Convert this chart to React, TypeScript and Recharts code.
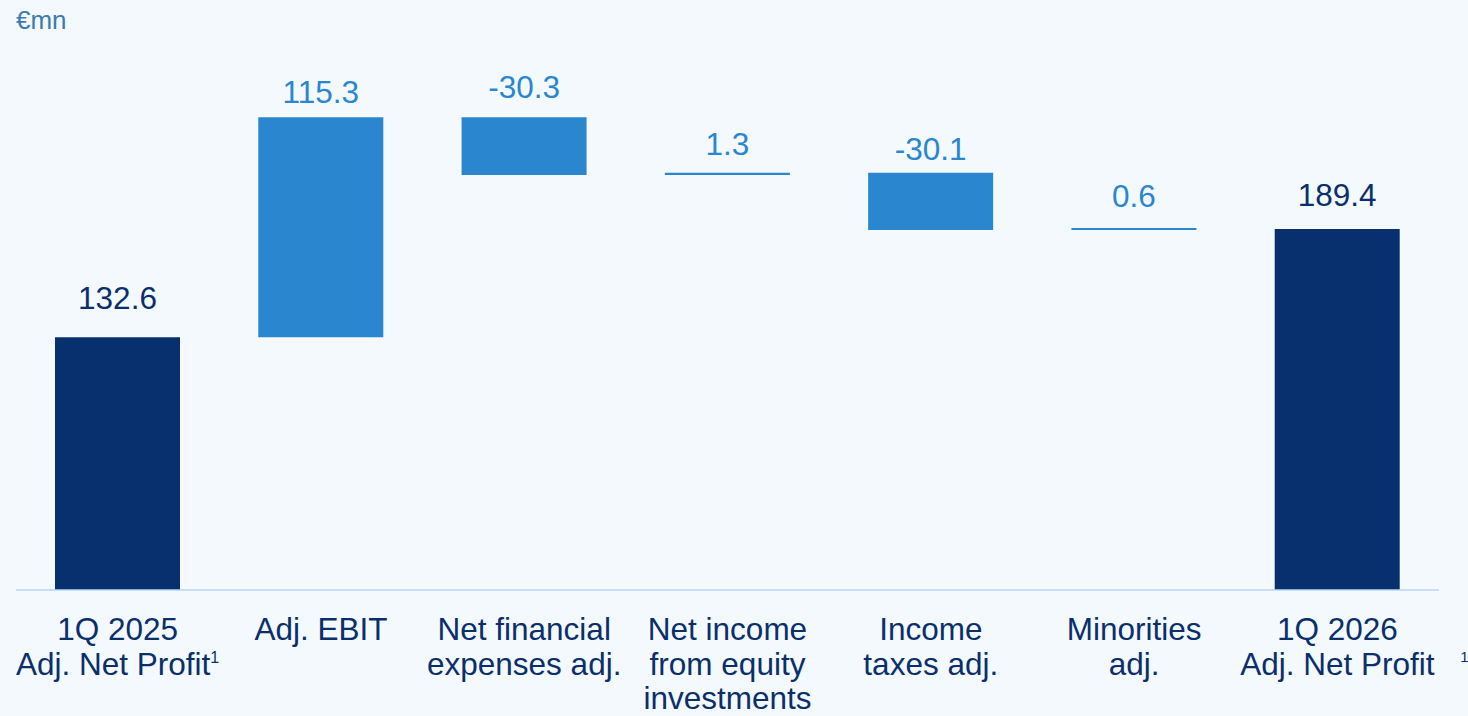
import { BarChart, Bar, XAxis, YAxis, LabelList, Cell } from 'recharts'

const categories = [
  '1Q 2025\nAdj. Net Profit',
  'Adj. EBIT',
  'Net financial\nexpenses adj.',
  'Net income\nfrom equity\ninvestments',
  'Income\ntaxes adj.',
  'Minorities\nadj.',
  '1Q 2026\nAdj. Net Profit',
]
const startValue = 132.6
const changes = [115.3, -30.3, 1.3, -30.1, 0.6]
const endValue = 189.4
const footnotes = ['1', '', '', '', '', '', '1']

const NAVY = '#08306f'
const BLUE = '#2986cf'
const TEXT_NAVY = '#0b2f6b'
const FONT = '"Liberation Sans", Arial, sans-serif'
// gap between bar top and label baseline, per column
const LABEL_GAP = [28, 14, 19, 18, 13, 21, 23]

type Row = { name: string; base: number; value: number; label: number; total: boolean; note: string }

const data: Row[] = []
data.push({ name: categories[0], base: 0, value: startValue, label: startValue, total: true, note: footnotes[0] })
let running = startValue
changes.forEach((c, i) => {
  const next = running + c
  data.push({ name: categories[i + 1], base: Math.min(running, next), value: Math.abs(c), label: c, total: false, note: footnotes[i + 1] })
  running = next
})
data.push({ name: categories[6], base: 0, value: endValue, label: endValue, total: true, note: footnotes[6] })

function CategoryTick(props: any) {
  const { x, y, payload, index } = props
  const lines = String(payload.value).split('\n')
  const note = data[index]?.note
  const lineH = 34.5
  return (
    <g>
      <text x={x} y={y} textAnchor="middle" fill={TEXT_NAVY} fontSize={31.5} fontFamily={FONT}>
        {lines.map((l, i) => (
          <tspan key={i} x={x} y={y + 50 + i * lineH}>
            {l}
            {note && index === 0 && i === lines.length - 1 ? (
              <tspan fontSize={16} dy={-12}>{note}</tspan>
            ) : null}
          </tspan>
        ))}
      </text>
      {note && index !== 0 ? (
        <text x={x + 123} y={y + 72} fill={TEXT_NAVY} fontSize={15} fontFamily={FONT}>{note}</text>
      ) : null}
    </g>
  )
}

function ValueLabel(props: any) {
  const { x, y, width, index } = props
  const row = data[index]
  return (
    <text
      x={x + width / 2}
      y={y - LABEL_GAP[index]}
      textAnchor="middle"
      fill={row.total ? TEXT_NAVY : BLUE}
      fontSize={31.5}
      fontFamily={FONT}
    >
      {row.label.toFixed(1)}
    </text>
  )
}

export default function App() {
  return (
    <div style={{ position: 'absolute', left: 0, top: 0, width: 1468, height: 716, background: '#f3f9fd', overflow: 'hidden' }}>
      <div style={{ position: 'absolute', left: 16, top: 5, fontSize: 26, color: '#3c7cae', fontFamily: FONT }}>€mn</div>
      <BarChart width={1468} height={716} data={data} margin={{ top: 18, right: 29, left: 16, bottom: 0 }} barSize={125}>
        <XAxis
          dataKey="name"
          height={126}
          interval={0}
          tickLine={false}
          tickSize={0}
          tickMargin={0}
          axisLine={{ stroke: '#b8d4f4', strokeWidth: 1.5 }}
          tick={<CategoryTick />}
        />
        <YAxis hide domain={[0, 300]} />
        <Bar dataKey="base" stackId="w" fill="transparent" isAnimationActive={false} />
        <Bar dataKey="value" stackId="w" minPointSize={2} isAnimationActive={false}>
          {data.map((d, i) => <Cell key={i} fill={d.total ? NAVY : BLUE} />)}
          <LabelList dataKey="value" content={<ValueLabel />} />
        </Bar>
      </BarChart>
    </div>
  )
}
